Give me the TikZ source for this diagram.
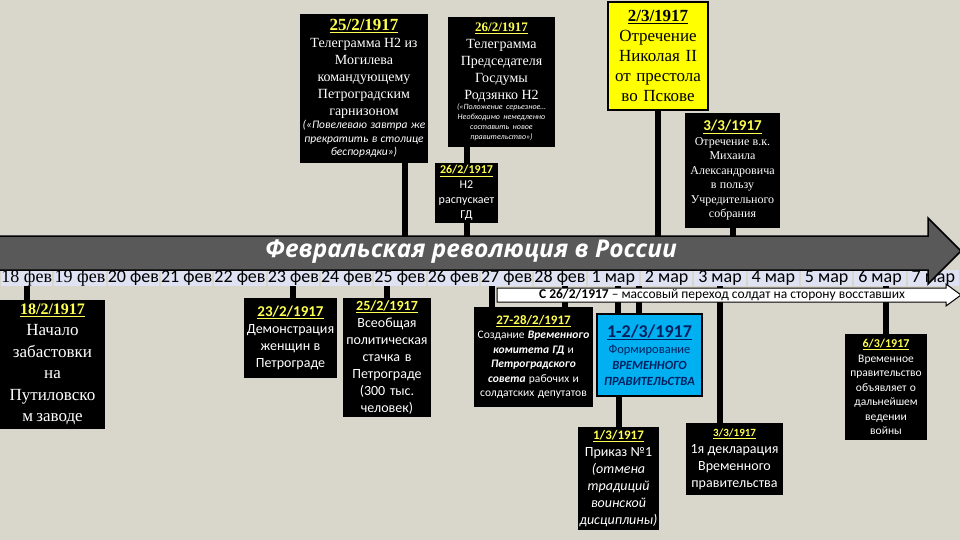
\documentclass[tikz,border=0pt]{standalone}
\usepackage{fontspec}
\setmainfont{Liberation Serif}
\setsansfont{Carlito}
\newfontfamily\titlefont{Open Sans}
\usetikzlibrary{calc}

\definecolor{paper}{RGB}{217,214,203}
\definecolor{bandgray}{RGB}{89,89,89}
\definecolor{daycell}{RGB}{222,226,242}
\definecolor{dateyellow}{RGB}{255,255,80}
\definecolor{boxyellow}{RGB}{255,255,0}
\definecolor{boxblue}{RGB}{0,176,240}
\definecolor{navy}{RGB}{0,32,96}

\newcommand{\fsz}[2]{\fontsize{#1}{#2}\selectfont}
\newcommand{\ydate}[1]{\textcolor{dateyellow}{\underline{\textbf{#1}}}}

\begin{document}
\begin{tikzpicture}[x=1pt,y=-1pt,
    event/.style={fill=black,text=white,align=center,inner sep=1pt},
    day/.style={fill=daycell,text=black,minimum width=51.5pt,minimum height=16pt,inner sep=0pt,
        text height=11.5pt,text depth=3pt,font=\sffamily\fsz{18}{18}},
    link/.style={line width=6pt,black}]
    \path[use as bounding box] (0,0) rectangle (960,540);
    \clip (0,0) rectangle (960,540);
    \fill[paper] (0,0) rectangle (960,540);

    \node[day] (f18) at (26.67,278) {\rmfamily 18 фев};
    \node[day] (f19) at (80,278) {\rmfamily 19 фев};
    \node[day] (f20) at (133.33,278) {20 фев};
    \node[day] (f21) at (186.67,278) {21 фев};
    \node[day] (f22) at (240,278) {22 фев};
    \node[day] (f23) at (293.33,278) {23 фев};
    \node[day] (f24) at (346.67,278) {24 фев};
    \node[day] (f25) at (400,278) {25 фев};
    \node[day] (f26) at (453.33,278) {26 фев};
    \node[day] (f27) at (506.67,278) {27 фев};
    \node[day] (f28) at (560,278) {28 фев};
    \node[day] (m1) at (613.33,278) {1 мар};
    \node[day] (m2) at (666.67,278) {2 мар};
    \node[day] (m3) at (720,278) {3 мар};
    \node[day] (m4) at (773.33,278) {4 мар};
    \node[day] (m5) at (826.67,278) {5 мар};
    \node[day] (m6) at (880,278) {6 мар};
    \node[day] (m7) at (933.33,278) {7 мар};

    \node[event,text width=126pt,minimum height=149pt] (boxA) at (364,88.5) {%
        {\fsz{17}{20}\ydate{25/2/1917}\par}
        {\fsz{14}{17}Телеграмма Н2 из\\Могилева\\командующему\\Петроградским\\гарнизоном\par}
        {\sffamily\itshape\fsz{11.5}{13.5}(«Повелеваю завтра же\\прекратить в столице\\беспорядки»)\par}};
    \node[event,text width=105pt,minimum height=130pt] (boxB) at (501.5,82) {%
        {\fsz{13}{17}\ydate{26/2/1917}\par}
        {\fsz{14}{17}Телеграмма\\Председателя\\Госдумы\\Родзянко Н2\par}
        {\sffamily\itshape\fsz{8}{10}(«Положение серьезное…\\Необходимо немедленно\\составить новое\\правительство»)\par}};
    \node[event,text width=61pt,minimum height=60pt,font=\sffamily\fsz{12}{15}] (boxC) at (466.5,193) {%
        \ydate{26/2/1917}\\Н2\\распускает\\ГД};
    \node[event,fill=boxyellow,draw=black,line width=1.5pt,text=black,text width=98pt,minimum height=108pt,font=\fsz{17}{20}] (boxD) at (658,56) {%
        \underline{\textbf{2/3/1917}}\\Отречение\\Николая II\\от престола\\во Пскове};
    \node[event,text width=93pt,minimum height=115pt] (boxE) at (732.5,170.5) {%
        {\sffamily\fsz{15}{18}\ydate{3/3/1917}\par}
        {\fsz{12}{14.5}Отречение в.к.\\Михаила\\Александровича\\в пользу\\Учредительного\\собрания\par}};

    \draw[link] (boxA.south -| f25.60) -- (f25.60);
    \draw[link] (boxB.south -| boxC.north) -- (boxC.north);
    \draw[link] (boxC.south) -- (boxC.south |- f26.north);
    \draw[link] (boxD.south) -- (boxD.south |- m2.north);
    \draw[link] (boxE.south) -- (boxE.south |- m3.north);

    \fill[bandgray,draw=black,line width=1.5pt] (-2,236) -- (928,236) -- (928,218) -- (961,251)
        -- (928,284) -- (928,270) -- (-2,270) -- cycle;
    \node[font=\titlefont\bfseries\itshape\fsz{24.5}{27},text=white] (title) at (471,252) {Февральская революция в России};

    \node[event,text width=103pt,minimum height=129pt] (boxF) at (52.5,364.5) {%
        {\fsz{16}{20}\ydate{18/2/1917}\par}
        {\fsz{17}{21.5}Начало\\забастовки\\на\\Путиловско\\м заводе\par}};
    \node[event,text width=91pt,minimum height=80pt,font=\sffamily] (boxG) at (290.5,338) {%
        {\fsz{15}{20}\ydate{23/2/1917}\par}
        {\fsz{14}{17}Демонстрация\\женщин в\\Петрограде\par}};
    \node[event,text width=86pt,minimum height=119pt,font=\sffamily\fsz{14}{17}] (boxH) at (387,357.5) {%
        \ydate{25/2/1917}\\Всеобщая\\политическая\\стачка в\\Петрограде\\(300 тыс.\\человек)};
    \node[event,text width=117pt,minimum height=100pt,font=\sffamily] (boxI) at (533.5,357) {%
        {\fsz{13}{16}\ydate{27-28/2/1917}\par}
        {\fsz{11.5}{14.5}Создание \textbf{\textit{Временного}}\\\textbf{\textit{комитета ГД}} и\\\textbf{\textit{Петроградского}}\\\textbf{\textit{совета}} рабочих и\\солдатских депутатов\par}};
    \node[event,fill=boxblue,draw=black,line width=2pt,text=navy,text width=103pt,minimum height=82pt,font=\sffamily] (boxJ) at (649.5,355) {%
        {\fsz{18}{21}\underline{\textbf{1-2/3/1917}}\par}
        {\fsz{12.5}{16}Формирование\\\textbf{\textit{ВРЕМЕННОГО}}\\\textbf{\textit{ПРАВИТЕЛЬСТВА}}\par}};
    \node[event,text width=79pt,minimum height=103pt,font=\sffamily] (boxK) at (618.5,478.5) {%
        {\fsz{13}{16}\ydate{1/3/1917}\par}
        {\fsz{14}{17}Приказ №1\\\textit{(отмена\\традиций\\воинской\\дисциплины)}\par}};
    \node[event,text width=95pt,minimum height=72pt,font=\sffamily] (boxL) at (734.5,459) {%
        {\fsz{11}{15}\ydate{3/3/1917}\par}
        {\fsz{14}{17}1я декларация\\Временного\\правительства\par}};
    \node[event,text width=80pt,minimum height=106pt,font=\sffamily] (boxM) at (886,387) {%
        {\fsz{12}{15}\ydate{6/3/1917}\par}
        {\fsz{11.5}{14.5}Временное\\правительство\\объявляет о\\дальнейшем\\ведении\\войны\par}};

    \draw[link] (f18.south) -- (f18.south |- boxF.north);
    \draw[link] (f23.south) -- (f23.south |- boxG.north);
    \draw[link] (boxH.north |- f25.south) -- (boxH.north);
    \draw[link] (f27.210) -- (f27.210 |- boxI.north);
    \draw[link] (f28.300) -- (f28.300 |- boxI.north);
    \draw[link] (m1.300) -- (m1.300 |- boxJ.north);
    \draw[link] (m1.south east) -- (m1.south east |- boxJ.north);
    \draw[link] (boxJ.south -| boxK.north) -- (boxK.north);
    \draw[link] (m3.south) -- (m3.south |- boxL.north);
    \draw[link] (boxM.north |- m6.south) -- (boxM.north);

    \filldraw[fill=white,draw=black,line width=1pt] (497,288) -- (946,288) -- (946,284) -- (961,295)
        -- (946,306) -- (946,302) -- (497,302) -- cycle;
    \node[font=\sffamily\fsz{13.5}{15}] (soldiers) at (722,295) {\textbf{С 26/2/1917} – массовый переход солдат на сторону восставших};
\end{tikzpicture}
\end{document}
